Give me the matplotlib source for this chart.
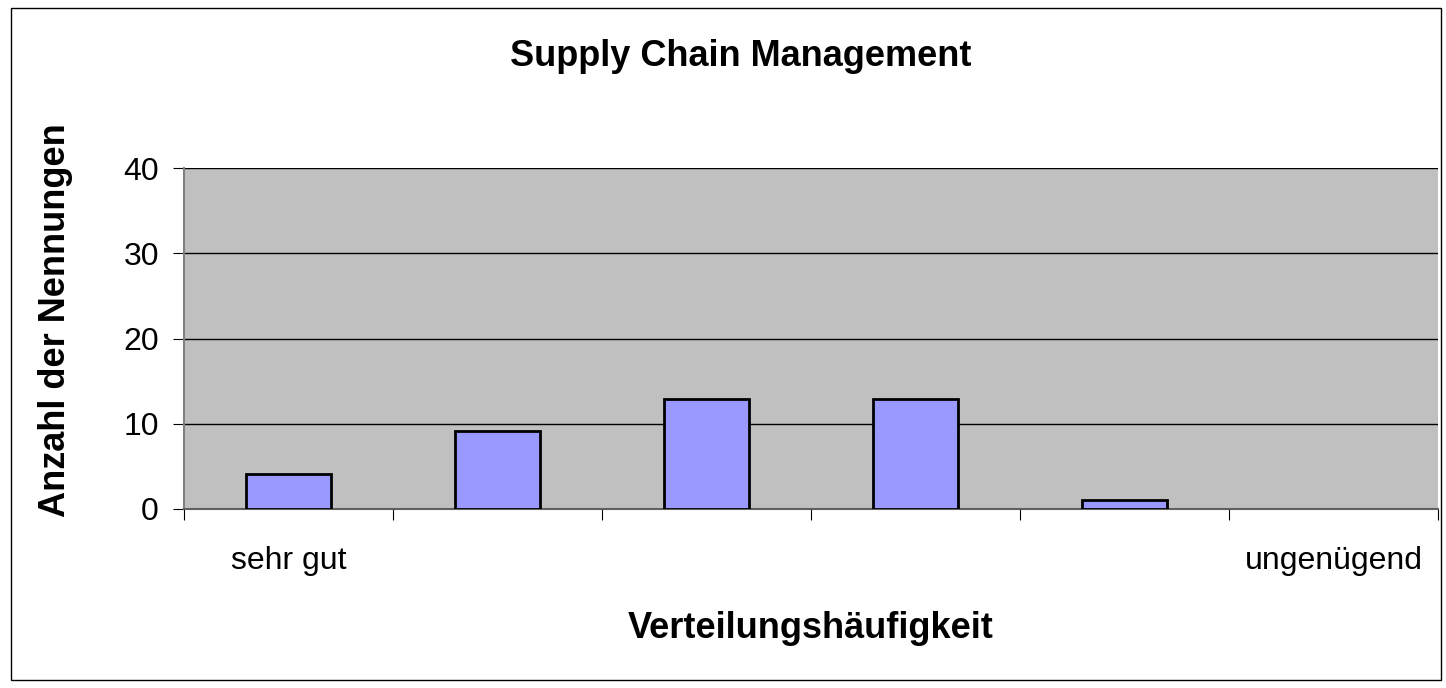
import matplotlib
matplotlib.use("Agg")
import matplotlib.pyplot as plt
from matplotlib.patches import Rectangle

# Daten
kategorien = ["sehr gut", "", "", "", "", "ungenügend"]
nennungen = [4.1, 9.2, 12.9, 12.9, 1.1, 0]

plt.rcParams['font.family'] = ['Liberation Sans', 'DejaVu Sans']

W, H = 1446, 688
fig = plt.figure(figsize=(W / 100, H / 100), dpi=100)
fig.patches.append(Rectangle((11 / W, 8 / H), 1430 / W, 672 / H,
                             transform=fig.transFigure, fill=False,
                             edgecolor='black', linewidth=1.0))

ax = fig.add_axes([184 / W, 179 / H, 1254 / W, 341 / H])
ax.set_facecolor('#c0c0c0')

x = range(len(nennungen))
linien = [2 if v > 0 else 0 for v in nennungen]
ax.bar(x, nennungen, width=0.41, color='#9999ff', edgecolor='black',
       linewidth=linien, zorder=3)

ax.set_xlim(-0.5, len(nennungen) - 0.5)
ax.set_ylim(0, 40)
ax.set_yticks([0, 10, 20, 30, 40])
ax.grid(axis='y', color='black', linewidth=1, zorder=1)

# Ticks an den Kategoriegrenzen, Beschriftung in der Mitte
ax.set_xticks([i - 0.5 for i in range(len(nennungen) + 1)])
ax.set_xticklabels([])
ax.set_xticks(list(x), minor=True)
ax.set_xticklabels(kategorien, minor=True)
ax.tick_params(axis='x', which='major', length=8, direction='out')
ax.tick_params(axis='x', which='minor', length=0, pad=27, labelsize=23)
ax.tick_params(axis='y', length=8, direction='out', labelsize=23, pad=10)

for s in ['top', 'right']:
    ax.spines[s].set_visible(False)
ax.spines['left'].set_color('#808080')
ax.spines['bottom'].set_color('#606060')
ax.spines['left'].set_linewidth(1.5)
ax.spines['bottom'].set_linewidth(1.5)

fig.text(56 / W, 1 - 320 / H, "Anzahl der Nennungen", rotation=90, ha='center', va='center',
         fontsize=26, fontweight='bold')
fig.text(811 / W, 1 - 629 / H, "Verteilungshäufigkeit", ha='center', va='center',
         fontsize=26, fontweight='bold')
fig.text(741 / W, 1 - 57 / H, "Supply Chain Management", ha='center', va='center',
         fontsize=26, fontweight='bold')

fig.savefig("out.png", dpi=100)
